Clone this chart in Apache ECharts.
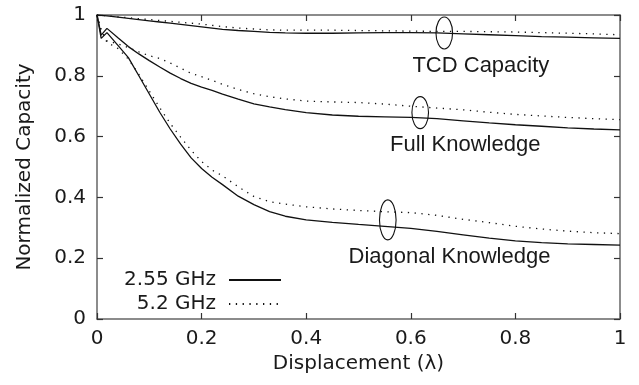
<!DOCTYPE html>
<html>
<head>
<meta charset="utf-8">
<script src="https://cdn.jsdelivr.net/npm/echarts@6/dist/echarts.min.js"></script>
<style>
  html, body { margin: 0; padding: 0; background: #fff; }
  #chart { width: 639px; height: 385px; }
</style>
</head>
<body>
<div id="chart"></div>
<script>
// Displacement grid (in wavelengths) shared by every curve
const displacement = [0, 0.008, 0.019, 0.04, 0.06, 0.08, 0.1, 0.12, 0.14, 0.16, 0.18, 0.2, 0.22, 0.24, 0.27, 0.3, 0.33, 0.36, 0.4, 0.45, 0.5, 0.55, 0.6, 0.65, 0.7, 0.75, 0.8, 0.85, 0.9, 0.95, 1];

// Normalized capacity, 2.55 GHz (solid) and 5.2 GHz (dotted)
const tcd255  = [1, 0.999, 0.997, 0.993, 0.989, 0.985, 0.981, 0.977, 0.973, 0.969, 0.965, 0.961, 0.957, 0.953, 0.949, 0.946, 0.943, 0.941, 0.940, 0.940, 0.941, 0.942, 0.942, 0.941, 0.938, 0.935, 0.932, 0.929, 0.927, 0.925, 0.923];
const tcd52   = [1, 0.999, 0.997, 0.994, 0.991, 0.988, 0.985, 0.982, 0.979, 0.976, 0.973, 0.970, 0.966, 0.962, 0.957, 0.954, 0.951, 0.950, 0.950, 0.950, 0.949, 0.948, 0.947, 0.946, 0.946, 0.945, 0.944, 0.942, 0.940, 0.938, 0.935];
const full255 = [1, 0.934, 0.956, 0.925, 0.896, 0.872, 0.850, 0.829, 0.809, 0.791, 0.775, 0.763, 0.752, 0.740, 0.723, 0.708, 0.698, 0.689, 0.679, 0.671, 0.667, 0.665, 0.663, 0.659, 0.652, 0.645, 0.639, 0.634, 0.629, 0.625, 0.622];
const full52  = [1, 0.950, 0.915, 0.905, 0.893, 0.879, 0.866, 0.857, 0.842, 0.825, 0.808, 0.797, 0.785, 0.772, 0.755, 0.741, 0.731, 0.724, 0.717, 0.714, 0.712, 0.707, 0.700, 0.694, 0.688, 0.680, 0.673, 0.668, 0.663, 0.659, 0.656];
const diag255 = [1, 0.923, 0.942, 0.900, 0.860, 0.800, 0.740, 0.680, 0.625, 0.575, 0.530, 0.495, 0.466, 0.442, 0.404, 0.376, 0.353, 0.338, 0.326, 0.318, 0.311, 0.305, 0.298, 0.288, 0.277, 0.266, 0.257, 0.251, 0.247, 0.245, 0.243];
const diag52  = [1, 0.950, 0.910, 0.890, 0.855, 0.805, 0.750, 0.695, 0.643, 0.598, 0.555, 0.518, 0.490, 0.471, 0.435, 0.403, 0.386, 0.378, 0.369, 0.362, 0.357, 0.353, 0.350, 0.341, 0.328, 0.317, 0.305, 0.296, 0.289, 0.284, 0.281];

const freqNames = ['2.55 GHz', '5.2 GHz'];

// Curve labels and the ellipses grouping each pair, in data coordinates
const curveLabels = ['TCD Capacity', 'Full Knowledge', 'Diagonal Knowledge'];
const labelAt     = [[0.734, 0.834], [0.704, 0.574], [0.674, 0.205]];
const ellipseAt   = [[0.664, 0.941], [0.618, 0.679], [0.556, 0.326]];
const ellipseRy   = [16, 16, 20];

const tickFont = 'DejaVu Sans';
const textColor = '#1a1a1a';
const frameColor = '#666';

function pairs(ys) { return displacement.map((x, i) => [x, ys[i]]); }

function curve(name, ys, dotted) {
  return {
    name: name,
    type: 'line',
    data: pairs(ys),
    symbol: 'none',
    smooth: false,
    silent: true,
    xAxisIndex: 0,
    yAxisIndex: 0,
    lineStyle: dotted
      ? { color: '#111', width: 1.3, type: [1.3, 5.5] }
      : { color: '#111', width: 1.3, type: 'solid' },
    itemStyle: { color: '#111' }
  };
}

const chart = echarts.init(document.getElementById('chart'), null, { renderer: 'canvas' });

function axisBase(pos) {
  return {
    type: 'value', min: 0, max: 1, interval: 0.2, position: pos,
    axisLine: { show: true, onZero: false, lineStyle: { color: frameColor, width: 1.5 } },
    axisTick: { show: true, inside: true, length: 6, lineStyle: { color: '#333', width: 1.2 } },
    splitLine: { show: false }
  };
}

const legendCommon = {
  orient: 'vertical', align: 'right', right: 357, padding: 0,
  itemWidth: 52, itemHeight: 14,
  itemStyle: { opacity: 0 },
  textStyle: { fontFamily: tickFont, fontSize: 20, color: textColor, padding: [0, 8, 0, 0] },
  selectedMode: false
};

chart.setOption({
  animation: false,
  backgroundColor: '#fff',
  grid: { left: 97, right: 19, top: 15, bottom: 66 },
  legend: [
    Object.assign({}, legendCommon, { data: [freqNames[0]], top: 270 }),
    Object.assign({}, legendCommon, { data: [freqNames[1]], top: 294 })
  ],
  xAxis: [
    Object.assign(axisBase('bottom'), {
      name: 'Displacement (λ)', nameLocation: 'middle', nameGap: 34,
      nameTextStyle: { fontFamily: tickFont, fontSize: 20, color: textColor },
      axisLabel: { margin: 10, fontFamily: tickFont, fontSize: 20, color: textColor }
    }),
    Object.assign(axisBase('top'), { axisLabel: { show: false } })
  ],
  yAxis: [
    Object.assign(axisBase('left'), {
      name: 'Normalized Capacity', nameLocation: 'middle', nameGap: 62,
      nameTextStyle: { fontFamily: tickFont, fontSize: 20, color: textColor },
      axisLabel: { margin: 11, fontFamily: tickFont, fontSize: 20, color: textColor }
    }),
    Object.assign(axisBase('right'), { axisLabel: { show: false } })
  ],
  series: [
    curve(freqNames[0], tcd255, false),
    curve(freqNames[1], tcd52, true),
    curve(freqNames[0], full255, false),
    curve(freqNames[1], full52, true),
    curve(freqNames[0], diag255, false),
    curve(freqNames[1], diag52, true)
  ]
});

// Annotations placed through the grid's own coordinate conversion
const graphics = [];
curveLabels.forEach((txt, i) => {
  const p = chart.convertToPixel({ gridIndex: 0 }, labelAt[i]);
  graphics.push({
    type: 'text', x: p[0], y: p[1], silent: true,
    style: { text: txt, fontFamily: 'Liberation Sans', fontSize: 22, fill: textColor, align: 'center', verticalAlign: 'middle' }
  });
  const e = chart.convertToPixel({ gridIndex: 0 }, ellipseAt[i]);
  graphics.push({
    type: 'ellipse', silent: true,
    shape: { cx: e[0], cy: e[1], rx: 8.3, ry: ellipseRy[i] },
    style: { fill: 'none', stroke: '#111', lineWidth: 1.1 }
  });
});
chart.setOption({ graphic: graphics });
</script>
</body>
</html>
